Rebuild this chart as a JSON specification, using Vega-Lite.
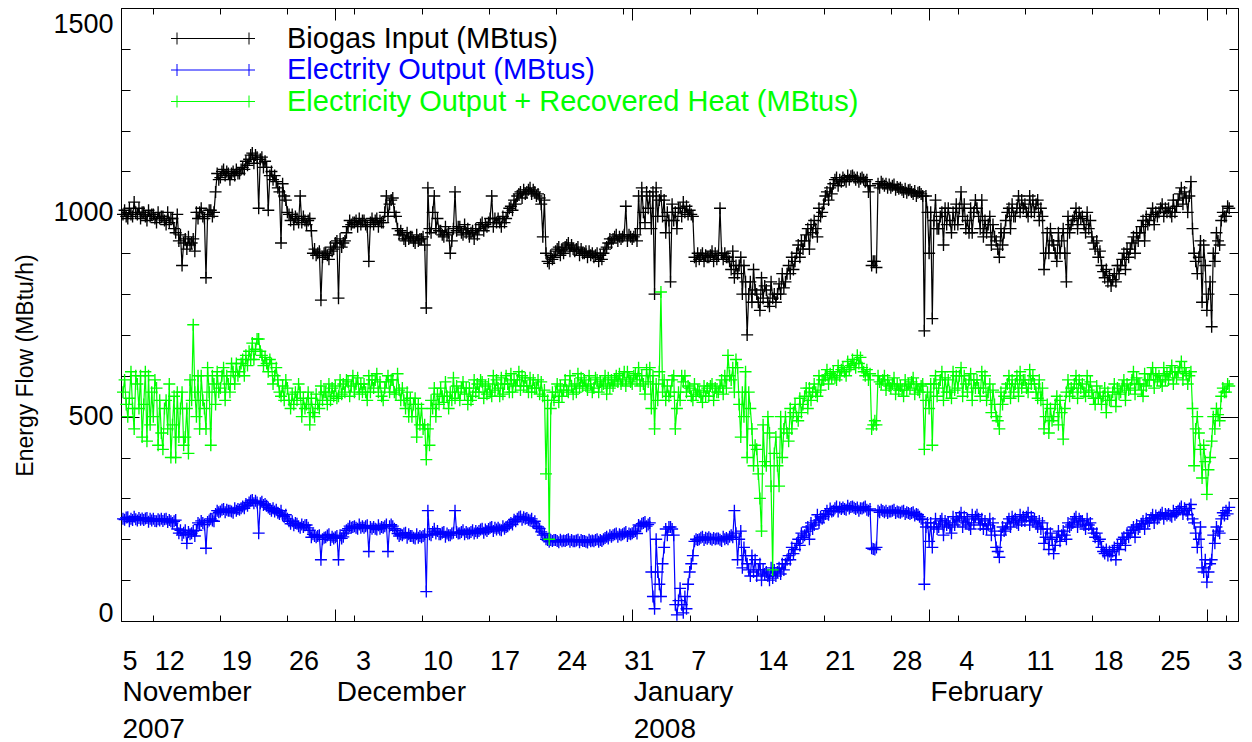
{
"$schema": "https://vega.github.io/schema/vega-lite/v6.json",
"width": 1117,
"height": 613,
"autosize": {"type": "none"},
"padding": {"left": 121, "top": 8, "right": 14, "bottom": 121},
"config": {
  "font": "Liberation Sans",
  "view": {"stroke": "#000000", "strokeWidth": 1},
  "axis": {"domain": false, "grid": false, "labelColor": "#000000", "tickColor": "#000000", "tickWidth": 1, "labelFont": "Liberation Sans", "titleFont": "Liberation Sans", "titleColor": "#000000"},
  "legend": {"labelFont": "Liberation Sans"}
},
"datasets": {"flow": [
{"t":"2007-11-08T20:00","b":995,"e":250,"h":560},
{"t":"2007-11-09T00:00","b":1005,"e":248,"h":590},{"t":"2007-11-09T04:00","b":990,"e":253,"h":530},{"t":"2007-11-09T08:00","b":985,"e":254,"h":500},{"t":"2007-11-09T12:00","b":1010,"e":244,"h":545},{"t":"2007-11-09T16:00","b":995,"e":250,"h":610},{"t":"2007-11-09T20:00","b":990,"e":247,"h":520},
{"t":"2007-11-10T00:00","b":1025,"e":255,"h":470},{"t":"2007-11-10T04:00","b":1000,"e":249,"h":600},{"t":"2007-11-10T08:00","b":995,"e":246,"h":580},{"t":"2007-11-10T12:00","b":1010,"e":252,"h":520},{"t":"2007-11-10T16:00","b":985,"e":248,"h":600},{"t":"2007-11-10T20:00","b":1000,"e":251,"h":450},
{"t":"2007-11-11T00:00","b":1000,"e":247,"h":530},{"t":"2007-11-11T04:00","b":990,"e":251,"h":610},{"t":"2007-11-11T08:00","b":980,"e":252,"h":440},{"t":"2007-11-11T12:00","b":1005,"e":243,"h":600},{"t":"2007-11-11T16:00","b":990,"e":250,"h":480},{"t":"2007-11-11T20:00","b":995,"e":246,"h":560},
{"t":"2007-11-12T00:00","b":995,"e":250,"h":500},{"t":"2007-11-12T04:00","b":985,"e":245,"h":590},{"t":"2007-11-12T08:00","b":975,"e":244,"h":570},{"t":"2007-11-12T12:00","b":1000,"e":249,"h":430},{"t":"2007-11-12T16:00","b":985,"e":246,"h":540},{"t":"2007-11-12T20:00","b":990,"e":250,"h":460},
{"t":"2007-11-13T00:00","b":990,"e":245,"h":420},{"t":"2007-11-13T04:00","b":980,"e":249,"h":520},{"t":"2007-11-13T08:00","b":970,"e":250,"h":540},{"t":"2007-11-13T12:00","b":1000,"e":242,"h":470},{"t":"2007-11-13T16:00","b":975,"e":247,"h":580},{"t":"2007-11-13T20:00","b":985,"e":244,"h":400},
{"t":"2007-11-14T00:00","b":985,"e":240,"h":480},{"t":"2007-11-14T04:00","b":960,"e":244,"h":550},{"t":"2007-11-14T08:00","b":950,"e":247,"h":400},{"t":"2007-11-14T12:00","b":995,"e":225,"h":560},{"t":"2007-11-14T16:00","b":930,"e":215,"h":450},{"t":"2007-11-14T20:00","b":945,"e":222,"h":520},
{"t":"2007-11-15T00:00","b":870,"e":210,"h":560},{"t":"2007-11-15T04:00","b":925,"e":216,"h":430},{"t":"2007-11-15T08:00","b":935,"e":222,"h":450},{"t":"2007-11-15T12:00","b":910,"e":190,"h":520},{"t":"2007-11-15T16:00","b":940,"e":218,"h":410},{"t":"2007-11-15T20:00","b":920,"e":212,"h":590},
{"t":"2007-11-16T00:00","b":925,"e":215,"h":540},{"t":"2007-11-16T04:00","b":935,"e":220,"h":725},{"t":"2007-11-16T08:00","b":905,"e":208,"h":560},{"t":"2007-11-16T12:00","b":1000,"e":222,"h":500},{"t":"2007-11-16T16:00","b":985,"e":240,"h":600},{"t":"2007-11-16T20:00","b":1000,"e":236,"h":470},
{"t":"2007-11-17T00:00","b":1010,"e":245,"h":600},{"t":"2007-11-17T04:00","b":990,"e":240,"h":540},{"t":"2007-11-17T08:00","b":985,"e":236,"h":520},{"t":"2007-11-17T12:00","b":840,"e":178,"h":470},{"t":"2007-11-17T16:00","b":995,"e":242,"h":620},{"t":"2007-11-17T20:00","b":1005,"e":246,"h":560},
{"t":"2007-11-18T00:00","b":1005,"e":250,"h":430},{"t":"2007-11-18T04:00","b":990,"e":246,"h":600},{"t":"2007-11-18T08:00","b":1000,"e":244,"h":580},{"t":"2007-11-18T12:00","b":1050,"e":262,"h":530},{"t":"2007-11-18T16:00","b":1095,"e":270,"h":610},{"t":"2007-11-18T20:00","b":1080,"e":266,"h":560},
{"t":"2007-11-19T00:00","b":1085,"e":268,"h":570},{"t":"2007-11-19T04:00","b":1100,"e":272,"h":600},{"t":"2007-11-19T08:00","b":1105,"e":274,"h":620},{"t":"2007-11-19T12:00","b":1090,"e":266,"h":540},{"t":"2007-11-19T16:00","b":1100,"e":272,"h":600},{"t":"2007-11-19T20:00","b":1095,"e":270,"h":580},
{"t":"2007-11-20T00:00","b":1080,"e":270,"h":560},{"t":"2007-11-20T04:00","b":1095,"e":268,"h":630},{"t":"2007-11-20T08:00","b":1100,"e":265,"h":610},{"t":"2007-11-20T12:00","b":1090,"e":276,"h":580},{"t":"2007-11-20T16:00","b":1105,"e":270,"h":630},{"t":"2007-11-20T20:00","b":1095,"e":274,"h":600},
{"t":"2007-11-21T00:00","b":1095,"e":272,"h":610},{"t":"2007-11-21T04:00","b":1105,"e":276,"h":630},{"t":"2007-11-21T08:00","b":1110,"e":280,"h":640},{"t":"2007-11-21T12:00","b":1105,"e":276,"h":600},{"t":"2007-11-21T16:00","b":1125,"e":286,"h":650},{"t":"2007-11-21T20:00","b":1115,"e":282,"h":625},
{"t":"2007-11-22T00:00","b":1130,"e":290,"h":660},{"t":"2007-11-22T04:00","b":1140,"e":294,"h":640},{"t":"2007-11-22T08:00","b":1145,"e":296,"h":680},{"t":"2007-11-22T12:00","b":1120,"e":288,"h":640},{"t":"2007-11-22T16:00","b":1140,"e":294,"h":665},{"t":"2007-11-22T20:00","b":1135,"e":290,"h":690},
{"t":"2007-11-23T00:00","b":1010,"e":215,"h":690},{"t":"2007-11-23T04:00","b":1130,"e":288,"h":660},{"t":"2007-11-23T08:00","b":1135,"e":292,"h":650},{"t":"2007-11-23T12:00","b":1110,"e":284,"h":625},{"t":"2007-11-23T16:00","b":1125,"e":286,"h":645},{"t":"2007-11-23T20:00","b":1110,"e":282,"h":630},
{"t":"2007-11-24T00:00","b":1005,"e":278,"h":610},{"t":"2007-11-24T04:00","b":1090,"e":274,"h":640},{"t":"2007-11-24T08:00","b":1100,"e":270,"h":630},{"t":"2007-11-24T12:00","b":1080,"e":276,"h":580},{"t":"2007-11-24T16:00","b":1090,"e":268,"h":600},{"t":"2007-11-24T20:00","b":1075,"e":272,"h":620},
{"t":"2007-11-25T00:00","b":1060,"e":265,"h":590},{"t":"2007-11-25T04:00","b":1050,"e":262,"h":560},{"t":"2007-11-25T08:00","b":925,"e":270,"h":550},{"t":"2007-11-25T12:00","b":1070,"e":258,"h":575},{"t":"2007-11-25T16:00","b":1040,"e":255,"h":540},{"t":"2007-11-25T20:00","b":1030,"e":260,"h":590},
{"t":"2007-11-26T00:00","b":1000,"e":250,"h":570},{"t":"2007-11-26T04:00","b":995,"e":244,"h":540},{"t":"2007-11-26T08:00","b":980,"e":238,"h":520},{"t":"2007-11-26T12:00","b":995,"e":244,"h":555},{"t":"2007-11-26T16:00","b":970,"e":234,"h":530},{"t":"2007-11-26T20:00","b":990,"e":240,"h":560},
{"t":"2007-11-27T00:00","b":985,"e":238,"h":540},{"t":"2007-11-27T04:00","b":975,"e":232,"h":580},{"t":"2007-11-27T08:00","b":1040,"e":228,"h":560},{"t":"2007-11-27T12:00","b":975,"e":236,"h":500},{"t":"2007-11-27T16:00","b":990,"e":230,"h":545},{"t":"2007-11-27T20:00","b":980,"e":234,"h":520},
{"t":"2007-11-28T00:00","b":970,"e":235,"h":530},{"t":"2007-11-28T04:00","b":980,"e":228,"h":560},{"t":"2007-11-28T08:00","b":985,"e":222,"h":480},{"t":"2007-11-28T12:00","b":955,"e":205,"h":545},{"t":"2007-11-28T16:00","b":900,"e":212,"h":510},{"t":"2007-11-28T20:00","b":910,"e":208,"h":500},
{"t":"2007-11-29T00:00","b":895,"e":205,"h":555},{"t":"2007-11-29T04:00","b":900,"e":208,"h":530},{"t":"2007-11-29T08:00","b":905,"e":210,"h":520},{"t":"2007-11-29T12:00","b":785,"e":150,"h":575},{"t":"2007-11-29T16:00","b":890,"e":200,"h":540},{"t":"2007-11-29T20:00","b":900,"e":204,"h":560},
{"t":"2007-11-30T00:00","b":900,"e":205,"h":560},{"t":"2007-11-30T04:00","b":895,"e":209,"h":530},{"t":"2007-11-30T08:00","b":885,"e":212,"h":580},{"t":"2007-11-30T12:00","b":915,"e":198,"h":540},{"t":"2007-11-30T16:00","b":905,"e":206,"h":570},{"t":"2007-11-30T20:00","b":910,"e":202,"h":550},
{"t":"2007-12-01T00:00","b":925,"e":205,"h":575},{"t":"2007-12-01T04:00","b":930,"e":208,"h":545},{"t":"2007-12-01T08:00","b":790,"e":150,"h":550},{"t":"2007-12-01T12:00","b":935,"e":210,"h":590},{"t":"2007-12-01T16:00","b":915,"e":202,"h":555},{"t":"2007-12-01T20:00","b":925,"e":206,"h":580},
{"t":"2007-12-02T00:00","b":930,"e":215,"h":560},{"t":"2007-12-02T04:00","b":950,"e":222,"h":590},{"t":"2007-12-02T08:00","b":965,"e":226,"h":585},{"t":"2007-12-02T12:00","b":980,"e":232,"h":550},{"t":"2007-12-02T16:00","b":970,"e":228,"h":575},{"t":"2007-12-02T20:00","b":975,"e":230,"h":600},
{"t":"2007-12-03T00:00","b":975,"e":232,"h":560},{"t":"2007-12-03T04:00","b":980,"e":228,"h":580},{"t":"2007-12-03T08:00","b":965,"e":226,"h":595},{"t":"2007-12-03T12:00","b":985,"e":236,"h":555},{"t":"2007-12-03T16:00","b":970,"e":228,"h":580},{"t":"2007-12-03T20:00","b":980,"e":232,"h":560},
{"t":"2007-12-04T00:00","b":980,"e":228,"h":580},{"t":"2007-12-04T04:00","b":970,"e":232,"h":560},{"t":"2007-12-04T08:00","b":965,"e":234,"h":540},{"t":"2007-12-04T12:00","b":880,"e":170,"h":600},{"t":"2007-12-04T16:00","b":975,"e":230,"h":560},{"t":"2007-12-04T20:00","b":985,"e":226,"h":590},
{"t":"2007-12-05T00:00","b":970,"e":230,"h":570},{"t":"2007-12-05T04:00","b":980,"e":226,"h":590},{"t":"2007-12-05T08:00","b":985,"e":224,"h":605},{"t":"2007-12-05T12:00","b":965,"e":234,"h":560},{"t":"2007-12-05T16:00","b":980,"e":226,"h":585},{"t":"2007-12-05T20:00","b":975,"e":230,"h":550},
{"t":"2007-12-06T00:00","b":975,"e":228,"h":540},{"t":"2007-12-06T04:00","b":1000,"e":232,"h":570},{"t":"2007-12-06T08:00","b":1040,"e":236,"h":585},{"t":"2007-12-06T12:00","b":990,"e":170,"h":600},{"t":"2007-12-06T16:00","b":1020,"e":232,"h":560},{"t":"2007-12-06T20:00","b":1030,"e":236,"h":590},
{"t":"2007-12-07T00:00","b":1035,"e":232,"h":590},{"t":"2007-12-07T04:00","b":1000,"e":226,"h":560},{"t":"2007-12-07T08:00","b":990,"e":222,"h":555},{"t":"2007-12-07T12:00","b":960,"e":214,"h":605},{"t":"2007-12-07T16:00","b":945,"e":208,"h":565},{"t":"2007-12-07T20:00","b":955,"e":212,"h":540},
{"t":"2007-12-08T00:00","b":945,"e":210,"h":570},{"t":"2007-12-08T04:00","b":935,"e":214,"h":540},{"t":"2007-12-08T08:00","b":930,"e":216,"h":520},{"t":"2007-12-08T12:00","b":950,"e":204,"h":560},{"t":"2007-12-08T16:00","b":935,"e":212,"h":500},{"t":"2007-12-08T20:00","b":940,"e":208,"h":545},
{"t":"2007-12-09T00:00","b":940,"e":208,"h":500},{"t":"2007-12-09T04:00","b":930,"e":204,"h":530},{"t":"2007-12-09T08:00","b":925,"e":202,"h":545},{"t":"2007-12-09T12:00","b":945,"e":212,"h":450},{"t":"2007-12-09T16:00","b":930,"e":204,"h":530},{"t":"2007-12-09T20:00","b":935,"e":208,"h":480},
{"t":"2007-12-10T00:00","b":935,"e":205,"h":520},{"t":"2007-12-10T04:00","b":940,"e":208,"h":470},{"t":"2007-12-10T08:00","b":920,"e":212,"h":480},{"t":"2007-12-10T12:00","b":766,"e":72,"h":395},{"t":"2007-12-10T16:00","b":1060,"e":270,"h":470},{"t":"2007-12-10T20:00","b":960,"e":212,"h":430},
{"t":"2007-12-11T00:00","b":950,"e":210,"h":540},{"t":"2007-12-11T04:00","b":1000,"e":218,"h":520},{"t":"2007-12-11T08:00","b":1040,"e":226,"h":570},{"t":"2007-12-11T12:00","b":960,"e":214,"h":500},{"t":"2007-12-11T16:00","b":985,"e":220,"h":555},{"t":"2007-12-11T20:00","b":955,"e":212,"h":530},
{"t":"2007-12-12T00:00","b":955,"e":212,"h":570},{"t":"2007-12-12T04:00","b":945,"e":216,"h":550},{"t":"2007-12-12T08:00","b":940,"e":218,"h":535},{"t":"2007-12-12T12:00","b":965,"e":206,"h":585},{"t":"2007-12-12T16:00","b":945,"e":214,"h":550},{"t":"2007-12-12T20:00","b":950,"e":210,"h":520},
{"t":"2007-12-13T00:00","b":900,"e":210,"h":560},{"t":"2007-12-13T04:00","b":930,"e":214,"h":540},{"t":"2007-12-13T08:00","b":960,"e":216,"h":595},{"t":"2007-12-13T12:00","b":1050,"e":270,"h":545},{"t":"2007-12-13T16:00","b":955,"e":218,"h":575},{"t":"2007-12-13T20:00","b":965,"e":214,"h":560},
{"t":"2007-12-14T00:00","b":965,"e":215,"h":540},{"t":"2007-12-14T04:00","b":950,"e":218,"h":570},{"t":"2007-12-14T08:00","b":945,"e":222,"h":585},{"t":"2007-12-14T12:00","b":970,"e":212,"h":555},{"t":"2007-12-14T16:00","b":950,"e":218,"h":570},{"t":"2007-12-14T20:00","b":960,"e":214,"h":530},
{"t":"2007-12-15T00:00","b":940,"e":215,"h":570},{"t":"2007-12-15T04:00","b":950,"e":218,"h":540},{"t":"2007-12-15T08:00","b":955,"e":222,"h":550},{"t":"2007-12-15T12:00","b":935,"e":214,"h":590},{"t":"2007-12-15T16:00","b":960,"e":220,"h":560},{"t":"2007-12-15T20:00","b":945,"e":216,"h":580},
{"t":"2007-12-16T00:00","b":960,"e":220,"h":560},{"t":"2007-12-16T04:00","b":970,"e":224,"h":590},{"t":"2007-12-16T08:00","b":975,"e":226,"h":585},{"t":"2007-12-16T12:00","b":955,"e":216,"h":545},{"t":"2007-12-16T16:00","b":970,"e":224,"h":575},{"t":"2007-12-16T20:00","b":965,"e":220,"h":555},
{"t":"2007-12-17T00:00","b":975,"e":225,"h":580},{"t":"2007-12-17T04:00","b":985,"e":228,"h":560},{"t":"2007-12-17T08:00","b":1040,"e":230,"h":550},{"t":"2007-12-17T12:00","b":965,"e":220,"h":600},{"t":"2007-12-17T16:00","b":985,"e":228,"h":565},{"t":"2007-12-17T20:00","b":975,"e":224,"h":590},
{"t":"2007-12-18T00:00","b":985,"e":228,"h":570},{"t":"2007-12-18T04:00","b":975,"e":224,"h":550},{"t":"2007-12-18T08:00","b":965,"e":222,"h":595},{"t":"2007-12-18T12:00","b":990,"e":232,"h":555},{"t":"2007-12-18T16:00","b":975,"e":226,"h":580},{"t":"2007-12-18T20:00","b":985,"e":230,"h":600},
{"t":"2007-12-19T00:00","b":1000,"e":232,"h":580},{"t":"2007-12-19T04:00","b":1010,"e":236,"h":560},{"t":"2007-12-19T08:00","b":1015,"e":240,"h":605},{"t":"2007-12-19T12:00","b":1005,"e":236,"h":560},{"t":"2007-12-19T16:00","b":1030,"e":248,"h":590},{"t":"2007-12-19T20:00","b":1020,"e":244,"h":575},
{"t":"2007-12-20T00:00","b":1040,"e":250,"h":590},{"t":"2007-12-20T04:00","b":1045,"e":254,"h":610},{"t":"2007-12-20T08:00","b":1050,"e":256,"h":565},{"t":"2007-12-20T12:00","b":1035,"e":248,"h":600},{"t":"2007-12-20T16:00","b":1055,"e":254,"h":575},{"t":"2007-12-20T20:00","b":1045,"e":250,"h":595},
{"t":"2007-12-21T00:00","b":1050,"e":252,"h":575},{"t":"2007-12-21T04:00","b":1055,"e":248,"h":560},{"t":"2007-12-21T08:00","b":1060,"e":246,"h":595},{"t":"2007-12-21T12:00","b":1045,"e":250,"h":560},{"t":"2007-12-21T16:00","b":1055,"e":240,"h":590},{"t":"2007-12-21T20:00","b":1050,"e":244,"h":570},
{"t":"2007-12-22T00:00","b":1040,"e":232,"h":570},{"t":"2007-12-22T04:00","b":1045,"e":230,"h":590},{"t":"2007-12-22T08:00","b":1035,"e":226,"h":555},{"t":"2007-12-22T12:00","b":1020,"e":218,"h":585},{"t":"2007-12-22T16:00","b":940,"e":210,"h":550},{"t":"2007-12-22T20:00","b":1030,"e":214,"h":565},
{"t":"2007-12-23T00:00","b":900,"e":200,"h":360},{"t":"2007-12-23T04:00","b":880,"e":198,"h":540},{"t":"2007-12-23T08:00","b":875,"e":194,"h":200},{"t":"2007-12-23T12:00","b":895,"e":198,"h":520},{"t":"2007-12-23T16:00","b":885,"e":196,"h":560},{"t":"2007-12-23T20:00","b":890,"e":198,"h":540},
{"t":"2007-12-24T00:00","b":905,"e":198,"h":560},{"t":"2007-12-24T04:00","b":910,"e":196,"h":580},{"t":"2007-12-24T08:00","b":915,"e":193,"h":535},{"t":"2007-12-24T12:00","b":895,"e":199,"h":575},{"t":"2007-12-24T16:00","b":910,"e":195,"h":550},{"t":"2007-12-24T20:00","b":900,"e":197,"h":565},
{"t":"2007-12-25T00:00","b":915,"e":196,"h":590},{"t":"2007-12-25T04:00","b":920,"e":198,"h":565},{"t":"2007-12-25T08:00","b":925,"e":200,"h":560},{"t":"2007-12-25T12:00","b":905,"e":194,"h":600},{"t":"2007-12-25T16:00","b":920,"e":198,"h":575},{"t":"2007-12-25T20:00","b":910,"e":195,"h":555},
{"t":"2007-12-26T00:00","b":905,"e":195,"h":580},{"t":"2007-12-26T04:00","b":910,"e":197,"h":560},{"t":"2007-12-26T08:00","b":915,"e":199,"h":605},{"t":"2007-12-26T12:00","b":895,"e":193,"h":570},{"t":"2007-12-26T16:00","b":910,"e":198,"h":595},{"t":"2007-12-26T20:00","b":900,"e":196,"h":575},
{"t":"2007-12-27T00:00","b":900,"e":196,"h":590},{"t":"2007-12-27T04:00","b":905,"e":194,"h":575},{"t":"2007-12-27T08:00","b":890,"e":192,"h":565},{"t":"2007-12-27T12:00","b":905,"e":199,"h":600},{"t":"2007-12-27T16:00","b":895,"e":195,"h":580},{"t":"2007-12-27T20:00","b":900,"e":197,"h":560},
{"t":"2007-12-28T00:00","b":890,"e":195,"h":570},{"t":"2007-12-28T04:00","b":895,"e":198,"h":595},{"t":"2007-12-28T08:00","b":900,"e":200,"h":590},{"t":"2007-12-28T12:00","b":880,"e":194,"h":560},{"t":"2007-12-28T16:00","b":895,"e":198,"h":585},{"t":"2007-12-28T20:00","b":885,"e":196,"h":575},
{"t":"2007-12-29T00:00","b":900,"e":200,"h":580},{"t":"2007-12-29T04:00","b":910,"e":203,"h":600},{"t":"2007-12-29T08:00","b":915,"e":206,"h":555},{"t":"2007-12-29T12:00","b":925,"e":202,"h":595},{"t":"2007-12-29T16:00","b":935,"e":210,"h":570},{"t":"2007-12-29T20:00","b":925,"e":206,"h":590},
{"t":"2007-12-30T00:00","b":935,"e":210,"h":575},{"t":"2007-12-30T04:00","b":940,"e":212,"h":590},{"t":"2007-12-30T08:00","b":945,"e":214,"h":600},{"t":"2007-12-30T12:00","b":930,"e":206,"h":585},{"t":"2007-12-30T16:00","b":940,"e":212,"h":605},{"t":"2007-12-30T20:00","b":935,"e":210,"h":580},
{"t":"2007-12-31T00:00","b":940,"e":212,"h":590},{"t":"2007-12-31T04:00","b":945,"e":215,"h":610},{"t":"2007-12-31T08:00","b":1015,"e":218,"h":575},{"t":"2007-12-31T12:00","b":930,"e":208,"h":610},{"t":"2007-12-31T16:00","b":945,"e":214,"h":595},{"t":"2007-12-31T20:00","b":940,"e":212,"h":585},
{"t":"2008-01-01T00:00","b":935,"e":215,"h":580},{"t":"2008-01-01T04:00","b":940,"e":218,"h":600},{"t":"2008-01-01T08:00","b":945,"e":220,"h":605},{"t":"2008-01-01T12:00","b":930,"e":214,"h":590},{"t":"2008-01-01T16:00","b":1040,"e":235,"h":620},{"t":"2008-01-01T20:00","b":960,"e":232,"h":575},
{"t":"2008-01-02T00:00","b":1060,"e":238,"h":600},{"t":"2008-01-02T04:00","b":1000,"e":240,"h":580},{"t":"2008-01-02T08:00","b":975,"e":242,"h":555},{"t":"2008-01-02T12:00","b":1050,"e":232,"h":615},{"t":"2008-01-02T16:00","b":1010,"e":236,"h":585},{"t":"2008-01-02T20:00","b":1040,"e":240,"h":620},
{"t":"2008-01-03T00:00","b":960,"e":120,"h":520},{"t":"2008-01-03T04:00","b":1050,"e":60,"h":600},{"t":"2008-01-03T08:00","b":800,"e":30,"h":470},{"t":"2008-01-03T12:00","b":1060,"e":200,"h":580},{"t":"2008-01-03T16:00","b":990,"e":120,"h":540},{"t":"2008-01-03T20:00","b":1030,"e":90,"h":610},
{"t":"2008-01-04T00:00","b":1040,"e":60,"h":805},{"t":"2008-01-04T04:00","b":990,"e":140,"h":560},{"t":"2008-01-04T08:00","b":1030,"e":180,"h":590},{"t":"2008-01-04T12:00","b":950,"e":225,"h":540},{"t":"2008-01-04T16:00","b":1000,"e":210,"h":575},{"t":"2008-01-04T20:00","b":980,"e":230,"h":550},
{"t":"2008-01-05T00:00","b":830,"e":230,"h":560},{"t":"2008-01-05T04:00","b":1020,"e":225,"h":590},{"t":"2008-01-05T08:00","b":980,"e":210,"h":600},{"t":"2008-01-05T12:00","b":1000,"e":40,"h":470},{"t":"2008-01-05T16:00","b":960,"e":15,"h":520},{"t":"2008-01-05T20:00","b":1010,"e":50,"h":560},
{"t":"2008-01-06T00:00","b":1010,"e":80,"h":540},{"t":"2008-01-06T04:00","b":990,"e":40,"h":600},{"t":"2008-01-06T08:00","b":1025,"e":20,"h":585},{"t":"2008-01-06T12:00","b":1000,"e":60,"h":600},{"t":"2008-01-06T16:00","b":1015,"e":30,"h":560},{"t":"2008-01-06T20:00","b":995,"e":90,"h":575},
{"t":"2008-01-07T00:00","b":1005,"e":120,"h":570},{"t":"2008-01-07T04:00","b":995,"e":140,"h":550},{"t":"2008-01-07T08:00","b":990,"e":160,"h":540},{"t":"2008-01-07T12:00","b":890,"e":195,"h":580},{"t":"2008-01-07T16:00","b":880,"e":200,"h":555},{"t":"2008-01-07T20:00","b":900,"e":198,"h":565},
{"t":"2008-01-08T00:00","b":885,"e":200,"h":560},{"t":"2008-01-08T04:00","b":895,"e":204,"h":550},{"t":"2008-01-08T08:00","b":900,"e":206,"h":535},{"t":"2008-01-08T12:00","b":880,"e":198,"h":575},{"t":"2008-01-08T16:00","b":895,"e":204,"h":550},{"t":"2008-01-08T20:00","b":890,"e":201,"h":570},
{"t":"2008-01-09T00:00","b":890,"e":205,"h":550},{"t":"2008-01-09T04:00","b":895,"e":201,"h":575},{"t":"2008-01-09T08:00","b":905,"e":199,"h":580},{"t":"2008-01-09T12:00","b":880,"e":203,"h":540},{"t":"2008-01-09T16:00","b":900,"e":200,"h":570},{"t":"2008-01-09T20:00","b":885,"e":202,"h":560},
{"t":"2008-01-10T00:00","b":895,"e":202,"h":560},{"t":"2008-01-10T04:00","b":1010,"e":199,"h":575},{"t":"2008-01-10T08:00","b":900,"e":196,"h":590},{"t":"2008-01-10T12:00","b":885,"e":206,"h":555},{"t":"2008-01-10T16:00","b":900,"e":200,"h":600},{"t":"2008-01-10T20:00","b":890,"e":203,"h":570},
{"t":"2008-01-11T00:00","b":890,"e":200,"h":650},{"t":"2008-01-11T04:00","b":880,"e":206,"h":600},{"t":"2008-01-11T08:00","b":860,"e":210,"h":590},{"t":"2008-01-11T12:00","b":905,"e":205,"h":620},{"t":"2008-01-11T16:00","b":840,"e":270,"h":560},{"t":"2008-01-11T20:00","b":870,"e":215,"h":640},
{"t":"2008-01-12T00:00","b":850,"e":150,"h":620},{"t":"2008-01-12T04:00","b":870,"e":200,"h":530},{"t":"2008-01-12T08:00","b":890,"e":220,"h":450},{"t":"2008-01-12T12:00","b":800,"e":130,"h":560},{"t":"2008-01-12T16:00","b":870,"e":180,"h":500},{"t":"2008-01-12T20:00","b":830,"e":160,"h":610},
{"t":"2008-01-13T00:00","b":700,"e":140,"h":400},{"t":"2008-01-13T04:00","b":800,"e":125,"h":560},{"t":"2008-01-13T08:00","b":830,"e":110,"h":520},{"t":"2008-01-13T12:00","b":780,"e":160,"h":470},{"t":"2008-01-13T16:00","b":860,"e":120,"h":380},{"t":"2008-01-13T20:00","b":810,"e":150,"h":430},
{"t":"2008-01-14T00:00","b":800,"e":110,"h":420},{"t":"2008-01-14T04:00","b":780,"e":125,"h":360},{"t":"2008-01-14T08:00","b":760,"e":140,"h":300},{"t":"2008-01-14T12:00","b":840,"e":100,"h":220},{"t":"2008-01-14T16:00","b":790,"e":125,"h":480},{"t":"2008-01-14T20:00","b":820,"e":115,"h":390},
{"t":"2008-01-15T00:00","b":810,"e":120,"h":380},{"t":"2008-01-15T04:00","b":780,"e":110,"h":500},{"t":"2008-01-15T08:00","b":770,"e":100,"h":460},{"t":"2008-01-15T12:00","b":830,"e":130,"h":330},{"t":"2008-01-15T16:00","b":790,"e":105,"h":125},{"t":"2008-01-15T20:00","b":800,"e":125,"h":410},
{"t":"2008-01-16T00:00","b":780,"e":110,"h":450},{"t":"2008-01-16T04:00","b":800,"e":120,"h":380},{"t":"2008-01-16T08:00","b":825,"e":130,"h":330},{"t":"2008-01-16T12:00","b":800,"e":115,"h":500},{"t":"2008-01-16T16:00","b":850,"e":140,"h":400},{"t":"2008-01-16T20:00","b":815,"e":125,"h":470},
{"t":"2008-01-17T00:00","b":830,"e":140,"h":500},{"t":"2008-01-17T04:00","b":850,"e":150,"h":460},{"t":"2008-01-17T08:00","b":870,"e":160,"h":440},{"t":"2008-01-17T12:00","b":850,"e":150,"h":520},{"t":"2008-01-17T16:00","b":890,"e":180,"h":470},{"t":"2008-01-17T20:00","b":860,"e":165,"h":510},
{"t":"2008-01-18T00:00","b":880,"e":175,"h":530},{"t":"2008-01-18T04:00","b":900,"e":190,"h":500},{"t":"2008-01-18T08:00","b":920,"e":200,"h":490},{"t":"2008-01-18T12:00","b":890,"e":185,"h":545},{"t":"2008-01-18T16:00","b":930,"e":215,"h":510},{"t":"2008-01-18T20:00","b":910,"e":205,"h":530},
{"t":"2008-01-19T00:00","b":930,"e":210,"h":550},{"t":"2008-01-19T04:00","b":945,"e":220,"h":570},{"t":"2008-01-19T08:00","b":960,"e":230,"h":520},{"t":"2008-01-19T12:00","b":910,"e":200,"h":570},{"t":"2008-01-19T16:00","b":970,"e":240,"h":540},{"t":"2008-01-19T20:00","b":950,"e":225,"h":560},
{"t":"2008-01-20T00:00","b":980,"e":235,"h":580},{"t":"2008-01-20T04:00","b":960,"e":245,"h":560},{"t":"2008-01-20T08:00","b":940,"e":260,"h":550},{"t":"2008-01-20T12:00","b":1010,"e":240,"h":600},{"t":"2008-01-20T16:00","b":990,"e":255,"h":565},{"t":"2008-01-20T20:00","b":1000,"e":250,"h":590},
{"t":"2008-01-21T00:00","b":1020,"e":255,"h":590},{"t":"2008-01-21T04:00","b":1040,"e":262,"h":600},{"t":"2008-01-21T08:00","b":1050,"e":270,"h":615},{"t":"2008-01-21T12:00","b":1030,"e":260,"h":580},{"t":"2008-01-21T16:00","b":1060,"e":275,"h":605},{"t":"2008-01-21T20:00","b":1045,"e":268,"h":595},
{"t":"2008-01-22T00:00","b":1070,"e":270,"h":610},{"t":"2008-01-22T04:00","b":1080,"e":276,"h":595},{"t":"2008-01-22T08:00","b":1085,"e":280,"h":590},{"t":"2008-01-22T12:00","b":1065,"e":268,"h":625},{"t":"2008-01-22T16:00","b":1080,"e":278,"h":600},{"t":"2008-01-22T20:00","b":1075,"e":274,"h":615},
{"t":"2008-01-23T00:00","b":1085,"e":278,"h":620},{"t":"2008-01-23T04:00","b":1080,"e":274,"h":610},{"t":"2008-01-23T08:00","b":1075,"e":272,"h":600},{"t":"2008-01-23T12:00","b":1090,"e":282,"h":635},{"t":"2008-01-23T16:00","b":1080,"e":275,"h":615},{"t":"2008-01-23T20:00","b":1088,"e":279,"h":625},
{"t":"2008-01-24T00:00","b":1090,"e":280,"h":640},{"t":"2008-01-24T04:00","b":1085,"e":277,"h":630},{"t":"2008-01-24T08:00","b":1080,"e":274,"h":620},{"t":"2008-01-24T12:00","b":1085,"e":278,"h":650},{"t":"2008-01-24T16:00","b":1075,"e":270,"h":630},{"t":"2008-01-24T20:00","b":1082,"e":276,"h":645},
{"t":"2008-01-25T00:00","b":1085,"e":275,"h":620},{"t":"2008-01-25T04:00","b":1080,"e":278,"h":610},{"t":"2008-01-25T08:00","b":1075,"e":280,"h":600},{"t":"2008-01-25T12:00","b":1080,"e":272,"h":615},{"t":"2008-01-25T16:00","b":1050,"e":270,"h":590},{"t":"2008-01-25T20:00","b":1065,"e":274,"h":605},
{"t":"2008-01-26T00:00","b":870,"e":178,"h":470},{"t":"2008-01-26T04:00","b":880,"e":176,"h":480},{"t":"2008-01-26T08:00","b":880,"e":175,"h":490},{"t":"2008-01-26T12:00","b":865,"e":180,"h":480},{"t":"2008-01-26T16:00","b":1070,"e":270,"h":600},{"t":"2008-01-26T20:00","b":1060,"e":266,"h":585},
{"t":"2008-01-27T00:00","b":1075,"e":272,"h":580},{"t":"2008-01-27T04:00","b":1070,"e":269,"h":590},{"t":"2008-01-27T08:00","b":1065,"e":266,"h":600},{"t":"2008-01-27T12:00","b":1070,"e":270,"h":565},{"t":"2008-01-27T16:00","b":1060,"e":264,"h":590},{"t":"2008-01-27T20:00","b":1068,"e":268,"h":575},
{"t":"2008-01-28T00:00","b":1060,"e":268,"h":570},{"t":"2008-01-28T04:00","b":1065,"e":270,"h":580},{"t":"2008-01-28T08:00","b":1068,"e":272,"h":595},{"t":"2008-01-28T12:00","b":1055,"e":264,"h":555},{"t":"2008-01-28T16:00","b":1062,"e":268,"h":580},{"t":"2008-01-28T20:00","b":1058,"e":266,"h":565},
{"t":"2008-01-29T00:00","b":1060,"e":265,"h":575},{"t":"2008-01-29T04:00","b":1055,"e":268,"h":565},{"t":"2008-01-29T08:00","b":1050,"e":270,"h":550},{"t":"2008-01-29T12:00","b":1058,"e":262,"h":590},{"t":"2008-01-29T16:00","b":1048,"e":266,"h":565},{"t":"2008-01-29T20:00","b":1054,"e":264,"h":580},
{"t":"2008-01-30T00:00","b":1055,"e":262,"h":570},{"t":"2008-01-30T04:00","b":1050,"e":264,"h":585},{"t":"2008-01-30T08:00","b":1045,"e":266,"h":595},{"t":"2008-01-30T12:00","b":1052,"e":258,"h":555},{"t":"2008-01-30T16:00","b":1040,"e":262,"h":580},{"t":"2008-01-30T20:00","b":1048,"e":260,"h":565},
{"t":"2008-01-31T00:00","b":1050,"e":255,"h":560},{"t":"2008-01-31T04:00","b":1045,"e":250,"h":575},{"t":"2008-01-31T08:00","b":1040,"e":248,"h":580},{"t":"2008-01-31T12:00","b":710,"e":90,"h":420},{"t":"2008-01-31T16:00","b":1040,"e":230,"h":540},{"t":"2008-01-31T20:00","b":1000,"e":240,"h":560},
{"t":"2008-02-01T00:00","b":900,"e":195,"h":520},{"t":"2008-02-01T04:00","b":1000,"e":240,"h":580},{"t":"2008-02-01T08:00","b":740,"e":180,"h":430},{"t":"2008-02-01T12:00","b":980,"e":230,"h":580},{"t":"2008-02-01T16:00","b":1030,"e":250,"h":600},{"t":"2008-02-01T20:00","b":960,"e":225,"h":550},
{"t":"2008-02-02T00:00","b":960,"e":230,"h":570},{"t":"2008-02-02T04:00","b":990,"e":245,"h":590},{"t":"2008-02-02T08:00","b":1000,"e":250,"h":610},{"t":"2008-02-02T12:00","b":920,"e":210,"h":540},{"t":"2008-02-02T16:00","b":1010,"e":245,"h":595},{"t":"2008-02-02T20:00","b":970,"e":235,"h":560},
{"t":"2008-02-03T00:00","b":1010,"e":240,"h":590},{"t":"2008-02-03T04:00","b":980,"e":230,"h":560},{"t":"2008-02-03T08:00","b":950,"e":215,"h":545},{"t":"2008-02-03T12:00","b":1000,"e":255,"h":610},{"t":"2008-02-03T16:00","b":970,"e":235,"h":565},{"t":"2008-02-03T20:00","b":1020,"e":250,"h":600},
{"t":"2008-02-04T00:00","b":970,"e":245,"h":570},{"t":"2008-02-04T04:00","b":1010,"e":255,"h":600},{"t":"2008-02-04T08:00","b":1050,"e":265,"h":620},{"t":"2008-02-04T12:00","b":990,"e":230,"h":550},{"t":"2008-02-04T16:00","b":1020,"e":255,"h":600},{"t":"2008-02-04T20:00","b":960,"e":240,"h":580},
{"t":"2008-02-05T00:00","b":980,"e":250,"h":560},{"t":"2008-02-05T04:00","b":950,"e":235,"h":590},{"t":"2008-02-05T08:00","b":1010,"e":225,"h":605},{"t":"2008-02-05T12:00","b":950,"e":260,"h":540},{"t":"2008-02-05T16:00","b":1000,"e":240,"h":590},{"t":"2008-02-05T20:00","b":1030,"e":255,"h":570},
{"t":"2008-02-06T00:00","b":1010,"e":260,"h":590},{"t":"2008-02-06T04:00","b":990,"e":250,"h":570},{"t":"2008-02-06T08:00","b":960,"e":235,"h":550},{"t":"2008-02-06T12:00","b":1030,"e":250,"h":610},{"t":"2008-02-06T16:00","b":940,"e":225,"h":570},{"t":"2008-02-06T20:00","b":980,"e":245,"h":600},
{"t":"2008-02-07T00:00","b":950,"e":225,"h":540},{"t":"2008-02-07T04:00","b":970,"e":235,"h":560},{"t":"2008-02-07T08:00","b":990,"e":250,"h":580},{"t":"2008-02-07T12:00","b":920,"e":210,"h":510},{"t":"2008-02-07T16:00","b":970,"e":240,"h":565},{"t":"2008-02-07T20:00","b":940,"e":220,"h":530},
{"t":"2008-02-08T00:00","b":930,"e":180,"h":500},{"t":"2008-02-08T04:00","b":910,"e":170,"h":490},{"t":"2008-02-08T08:00","b":890,"e":156,"h":470},{"t":"2008-02-08T12:00","b":960,"e":210,"h":560},{"t":"2008-02-08T16:00","b":920,"e":230,"h":530},{"t":"2008-02-08T20:00","b":950,"e":220,"h":550},
{"t":"2008-02-09T00:00","b":980,"e":225,"h":570},{"t":"2008-02-09T04:00","b":1000,"e":240,"h":580},{"t":"2008-02-09T08:00","b":1010,"e":250,"h":600},{"t":"2008-02-09T12:00","b":960,"e":230,"h":545},{"t":"2008-02-09T16:00","b":1020,"e":255,"h":590},{"t":"2008-02-09T20:00","b":990,"e":245,"h":560},
{"t":"2008-02-10T00:00","b":990,"e":250,"h":580},{"t":"2008-02-10T04:00","b":1010,"e":240,"h":600},{"t":"2008-02-10T08:00","b":1040,"e":235,"h":550},{"t":"2008-02-10T12:00","b":1000,"e":260,"h":610},{"t":"2008-02-10T16:00","b":1030,"e":245,"h":570},{"t":"2008-02-10T20:00","b":1010,"e":255,"h":590},
{"t":"2008-02-11T00:00","b":1020,"e":245,"h":590},{"t":"2008-02-11T04:00","b":1000,"e":255,"h":570},{"t":"2008-02-11T08:00","b":990,"e":265,"h":560},{"t":"2008-02-11T12:00","b":1040,"e":235,"h":615},{"t":"2008-02-11T16:00","b":1000,"e":255,"h":580},{"t":"2008-02-11T20:00","b":1030,"e":245,"h":600},
{"t":"2008-02-12T00:00","b":1000,"e":250,"h":580},{"t":"2008-02-12T04:00","b":1020,"e":240,"h":560},{"t":"2008-02-12T08:00","b":1030,"e":230,"h":545},{"t":"2008-02-12T12:00","b":980,"e":245,"h":590},{"t":"2008-02-12T16:00","b":1010,"e":225,"h":540},{"t":"2008-02-12T20:00","b":990,"e":240,"h":570},
{"t":"2008-02-13T00:00","b":860,"e":190,"h":470},{"t":"2008-02-13T04:00","b":900,"e":205,"h":500},{"t":"2008-02-13T08:00","b":950,"e":225,"h":530},{"t":"2008-02-13T12:00","b":900,"e":175,"h":460},{"t":"2008-02-13T16:00","b":960,"e":215,"h":520},{"t":"2008-02-13T20:00","b":930,"e":200,"h":490},
{"t":"2008-02-14T00:00","b":920,"e":165,"h":500},{"t":"2008-02-14T04:00","b":900,"e":185,"h":530},{"t":"2008-02-14T08:00","b":880,"e":205,"h":550},{"t":"2008-02-14T12:00","b":950,"e":220,"h":480},{"t":"2008-02-14T16:00","b":900,"e":195,"h":540},{"t":"2008-02-14T20:00","b":930,"e":210,"h":510},
{"t":"2008-02-15T00:00","b":960,"e":220,"h":445},{"t":"2008-02-15T04:00","b":900,"e":210,"h":520},{"t":"2008-02-15T08:00","b":830,"e":200,"h":560},{"t":"2008-02-15T12:00","b":990,"e":240,"h":590},{"t":"2008-02-15T16:00","b":950,"e":230,"h":550},{"t":"2008-02-15T20:00","b":970,"e":235,"h":570},
{"t":"2008-02-16T00:00","b":980,"e":240,"h":560},{"t":"2008-02-16T04:00","b":990,"e":250,"h":580},{"t":"2008-02-16T08:00","b":1010,"e":255,"h":600},{"t":"2008-02-16T12:00","b":960,"e":230,"h":545},{"t":"2008-02-16T16:00","b":1000,"e":250,"h":590},{"t":"2008-02-16T20:00","b":985,"e":245,"h":570},
{"t":"2008-02-17T00:00","b":990,"e":245,"h":580},{"t":"2008-02-17T04:00","b":970,"e":235,"h":560},{"t":"2008-02-17T08:00","b":950,"e":225,"h":550},{"t":"2008-02-17T12:00","b":1000,"e":250,"h":600},{"t":"2008-02-17T16:00","b":960,"e":235,"h":565},{"t":"2008-02-17T20:00","b":980,"e":240,"h":585},
{"t":"2008-02-18T00:00","b":940,"e":225,"h":560},{"t":"2008-02-18T04:00","b":925,"e":215,"h":545},{"t":"2008-02-18T08:00","b":910,"e":205,"h":530},{"t":"2008-02-18T12:00","b":930,"e":215,"h":575},{"t":"2008-02-18T16:00","b":890,"e":195,"h":545},{"t":"2008-02-18T20:00","b":905,"e":200,"h":560},
{"t":"2008-02-19T00:00","b":870,"e":180,"h":530},{"t":"2008-02-19T04:00","b":855,"e":170,"h":550},{"t":"2008-02-19T08:00","b":840,"e":165,"h":570},{"t":"2008-02-19T12:00","b":860,"e":175,"h":510},{"t":"2008-02-19T16:00","b":830,"e":160,"h":560},{"t":"2008-02-19T20:00","b":845,"e":170,"h":540},
{"t":"2008-02-20T00:00","b":820,"e":160,"h":540},{"t":"2008-02-20T04:00","b":835,"e":170,"h":560},{"t":"2008-02-20T08:00","b":850,"e":180,"h":580},{"t":"2008-02-20T12:00","b":830,"e":150,"h":525},{"t":"2008-02-20T16:00","b":870,"e":185,"h":570},{"t":"2008-02-20T20:00","b":850,"e":175,"h":555},
{"t":"2008-02-21T00:00","b":870,"e":190,"h":560},{"t":"2008-02-21T04:00","b":885,"e":200,"h":575},{"t":"2008-02-21T08:00","b":900,"e":205,"h":590},{"t":"2008-02-21T12:00","b":860,"e":185,"h":540},{"t":"2008-02-21T16:00","b":910,"e":215,"h":580},{"t":"2008-02-21T20:00","b":890,"e":205,"h":565},
{"t":"2008-02-22T00:00","b":910,"e":215,"h":570},{"t":"2008-02-22T04:00","b":925,"e":222,"h":590},{"t":"2008-02-22T08:00","b":940,"e":230,"h":610},{"t":"2008-02-22T12:00","b":900,"e":205,"h":555},{"t":"2008-02-22T16:00","b":950,"e":235,"h":595},{"t":"2008-02-22T20:00","b":930,"e":225,"h":580},
{"t":"2008-02-23T00:00","b":950,"e":230,"h":580},{"t":"2008-02-23T04:00","b":965,"e":238,"h":565},{"t":"2008-02-23T08:00","b":980,"e":245,"h":550},{"t":"2008-02-23T12:00","b":930,"e":225,"h":605},{"t":"2008-02-23T16:00","b":990,"e":250,"h":575},{"t":"2008-02-23T20:00","b":970,"e":240,"h":590},
{"t":"2008-02-24T00:00","b":980,"e":245,"h":590},{"t":"2008-02-24T04:00","b":995,"e":252,"h":605},{"t":"2008-02-24T08:00","b":1010,"e":260,"h":620},{"t":"2008-02-24T12:00","b":970,"e":240,"h":570},{"t":"2008-02-24T16:00","b":1000,"e":258,"h":605},{"t":"2008-02-24T20:00","b":990,"e":250,"h":590},
{"t":"2008-02-25T00:00","b":1000,"e":255,"h":600},{"t":"2008-02-25T04:00","b":1010,"e":260,"h":585},{"t":"2008-02-25T08:00","b":1020,"e":265,"h":575},{"t":"2008-02-25T12:00","b":990,"e":250,"h":620},{"t":"2008-02-25T16:00","b":1010,"e":262,"h":590},{"t":"2008-02-25T20:00","b":1000,"e":258,"h":605},
{"t":"2008-02-26T00:00","b":1010,"e":262,"h":590},{"t":"2008-02-26T04:00","b":1000,"e":258,"h":610},{"t":"2008-02-26T08:00","b":990,"e":255,"h":625},{"t":"2008-02-26T12:00","b":1030,"e":270,"h":580},{"t":"2008-02-26T16:00","b":1000,"e":260,"h":610},{"t":"2008-02-26T20:00","b":1015,"e":265,"h":595},
{"t":"2008-02-27T00:00","b":1030,"e":270,"h":610},{"t":"2008-02-27T04:00","b":1045,"e":275,"h":620},{"t":"2008-02-27T08:00","b":1060,"e":280,"h":635},{"t":"2008-02-27T12:00","b":1020,"e":262,"h":590},{"t":"2008-02-27T16:00","b":1050,"e":276,"h":620},{"t":"2008-02-27T20:00","b":1035,"e":270,"h":605},
{"t":"2008-02-28T00:00","b":1000,"e":260,"h":580},{"t":"2008-02-28T04:00","b":1040,"e":275,"h":600},{"t":"2008-02-28T08:00","b":1075,"e":285,"h":610},{"t":"2008-02-28T12:00","b":960,"e":250,"h":520},{"t":"2008-02-28T16:00","b":900,"e":240,"h":380},{"t":"2008-02-28T20:00","b":880,"e":215,"h":470},
{"t":"2008-02-29T00:00","b":850,"e":180,"h":500},{"t":"2008-02-29T04:00","b":890,"e":200,"h":460},{"t":"2008-02-29T08:00","b":930,"e":230,"h":420},{"t":"2008-02-29T12:00","b":780,"e":130,"h":350},{"t":"2008-02-29T16:00","b":920,"e":120,"h":430},{"t":"2008-02-29T20:00","b":870,"e":150,"h":390},
{"t":"2008-03-01T00:00","b":760,"e":95,"h":310},{"t":"2008-03-01T04:00","b":800,"e":120,"h":370},{"t":"2008-03-01T08:00","b":830,"e":140,"h":400},{"t":"2008-03-01T12:00","b":720,"e":150,"h":440},{"t":"2008-03-01T16:00","b":900,"e":210,"h":500},{"t":"2008-03-01T20:00","b":880,"e":190,"h":470},
{"t":"2008-03-02T00:00","b":950,"e":230,"h":520},{"t":"2008-03-02T04:00","b":930,"e":220,"h":505},{"t":"2008-03-02T08:00","b":920,"e":215,"h":490},{"t":"2008-03-02T12:00","b":980,"e":250,"h":550},{"t":"2008-03-02T16:00","b":1000,"e":265,"h":570},{"t":"2008-03-02T20:00","b":990,"e":258,"h":560},
{"t":"2008-03-03T00:00","b":990,"e":270,"h":560},{"t":"2008-03-03T04:00","b":1015,"e":262,"h":580},{"t":"2008-03-03T08:00","b":1010,"e":278,"h":575}
]},
"data": {"name": "flow"},
"transform": [{"fold": ["b", "e", "h"], "as": ["s", "v"]}],
"encoding": {
  "color": {
    "field": "s", "type": "nominal",
    "scale": {"domain": ["b", "e", "h"], "range": ["#000000", "#0000ff", "#00ff00"]},
    "legend": {
      "orient": "none", "legendX": 77.5, "legendY": 16, "title": null, "padding": 0,
      "symbolType": "M-7,0L7,0M-6,-1L-6,1M6,-1L6,1", "symbolSize": 144, "symbolStrokeWidth": 1,
      "labelFontSize": 29, "labelOffset": 59.5, "rowPadding": 1.5, "labelLimit": 1000,
      "labelExpr": "datum.value == 'b' ? 'Biogas Input (MBtus)' : datum.value == 'e' ? 'Electrity Output (MBtus)' : 'Electricity Output + Recovered Heat (MBtus)'",
      "labelColor": {"expr": "datum.value == 'b' ? '#000000' : datum.value == 'e' ? '#0000ff' : '#00ff00'"}
    }
  }
},
"layer": [
  {
    "transform": [{"filter": "datum.s == 'b'"}],
    "mark": {"type": "line", "strokeWidth": 1.2},
    "encoding": {
      "x": {"field": "t", "type": "temporal",
        "scale": {"domain": [{"year": 2007, "month": 11, "date": 8, "hours": 15}, {"year": 2008, "month": 3, "date": 4, "hours": 6}]},
        "axis": {"orient": "bottom", "title": null, "ticks": false, "domain": false, "labelOverlap": false, "labelFlush": false, "labelBound": false,
          "values": [{"year": 2007, "month": 11, "date": 8, "hours": 15}, {"year": 2007, "month": 11, "date": 12}, {"year": 2007, "month": 11, "date": 19}, {"year": 2007, "month": 11, "date": 26}, {"year": 2007, "month": 12, "date": 3}, {"year": 2007, "month": 12, "date": 10}, {"year": 2007, "month": 12, "date": 17}, {"year": 2007, "month": 12, "date": 24}, {"year": 2007, "month": 12, "date": 31}, {"year": 2008, "month": 1, "date": 7}, {"year": 2008, "month": 1, "date": 14}, {"year": 2008, "month": 1, "date": 21}, {"year": 2008, "month": 1, "date": 28}, {"year": 2008, "month": 2, "date": 4}, {"year": 2008, "month": 2, "date": 11}, {"year": 2008, "month": 2, "date": 18}, {"year": 2008, "month": 2, "date": 25}, {"year": 2008, "month": 3, "date": 3}],
          "labelExpr": "date(datum.value) == 8 ? '5' : timeFormat(datum.value, '%-d')",
          "labelAlign": "left", "labelBaseline": "top", "labelPadding": 27, "labelOffset": 1, "labelFontSize": 27}},
      "y": {"field": "v", "type": "quantitative",
        "scale": {"domain": [0, 1500], "nice": false},
        "axis": {"orient": "left", "ticks": false, "domain": false, "values": [0, 500, 1000, 1500], "format": "d", "labelFontSize": 27, "labelPadding": 8, "labelFlush": false,
          "labelOffset": {"condition": {"test": "datum.value == 1500", "value": 16}, "value": 0},
          "labelBaseline": {"condition": {"test": "datum.value == 0", "value": "alphabetic"}, "value": "middle"},
          "title": "Energy Flow (MBtu/h)", "titleFontSize": 23, "titleFontWeight": "normal", "titleX": -96, "titleY": 357, "titleAngle": -90, "titleBaseline": "middle", "titleAlign": "center"}}
    }
  },
  {
    "transform": [{"filter": "datum.s == 'e'"}],
    "mark": {"type": "line", "strokeWidth": 1.2},
    "encoding": {
      "x": {"field": "t", "type": "temporal",
        "scale": {"domain": [{"year": 2007, "month": 11, "date": 8, "hours": 15}, {"year": 2008, "month": 3, "date": 4, "hours": 6}]},
        "axis": {"orient": "bottom", "title": null, "ticks": false, "domain": false, "labelOverlap": false, "labelFlush": false, "labelBound": false,
          "values": [{"year": 2007, "month": 11, "date": 8, "hours": 15}, {"year": 2007, "month": 12, "date": 1}, {"year": 2008, "month": 1, "date": 1}, {"year": 2008, "month": 2, "date": 1}],
          "labelExpr": "date(datum.value) == 8 ? ['November', '2007'] : month(datum.value) == 0 ? ['January', '2008'] : timeFormat(datum.value, '%B')",
          "labelAlign": "left", "labelBaseline": "top", "labelPadding": 57, "labelOffset": 1, "labelFontSize": 28, "labelLineHeight": 37}},
      "y": {"field": "v", "type": "quantitative",
        "scale": {"domain": [0, 1500], "nice": false},
        "axis": {"orient": "left", "title": null, "labels": false, "domain": false, "offset": -9, "tickSize": 9,
          "values": [0, 100, 200, 300, 400, 500, 600, 700, 800, 900, 1000, 1100, 1200, 1300, 1400, 1500]}}
    }
  },
  {
    "transform": [{"filter": "datum.s == 'h'"}],
    "mark": {"type": "line", "strokeWidth": 1.2},
    "encoding": {
      "x": {"field": "t", "type": "temporal",
        "scale": {"domain": [{"year": 2007, "month": 11, "date": 8, "hours": 15}, {"year": 2008, "month": 3, "date": 4, "hours": 6}]},
        "axis": {"orient": "bottom", "title": null, "labels": false, "domain": false, "offset": -6, "tickSize": 6,
          "values": [{"year": 2007, "month": 11, "date": 12}, {"year": 2007, "month": 11, "date": 19}, {"year": 2007, "month": 11, "date": 26}, {"year": 2007, "month": 12, "date": 3}, {"year": 2007, "month": 12, "date": 10}, {"year": 2007, "month": 12, "date": 17}, {"year": 2007, "month": 12, "date": 24}, {"year": 2007, "month": 12, "date": 31}, {"year": 2008, "month": 1, "date": 7}, {"year": 2008, "month": 1, "date": 14}, {"year": 2008, "month": 1, "date": 21}, {"year": 2008, "month": 1, "date": 28}, {"year": 2008, "month": 2, "date": 4}, {"year": 2008, "month": 2, "date": 11}, {"year": 2008, "month": 2, "date": 18}, {"year": 2008, "month": 2, "date": 25}, {"year": 2008, "month": 3, "date": 3}]}},
      "y": {"field": "v", "type": "quantitative",
        "scale": {"domain": [0, 1500], "nice": false},
        "axis": {"orient": "left", "title": null, "labels": false, "domain": false, "offset": -18, "tickSize": 18,
          "values": [0, 500, 1000, 1500]}}
    }
  },
  {
    "transform": [{"filter": "datum.s == 'b'"}],
    "mark": {"type": "point", "shape": "M-1,0L1,0M0,-1L0,1", "size": 144, "filled": false, "strokeWidth": 1.35, "opacity": 1},
    "encoding": {
      "x": {"field": "t", "type": "temporal",
        "scale": {"domain": [{"year": 2007, "month": 11, "date": 8, "hours": 15}, {"year": 2008, "month": 3, "date": 4, "hours": 6}]},
        "axis": {"orient": "bottom", "title": null, "labels": false, "domain": false, "offset": -12, "tickSize": 12,
          "values": [{"year": 2007, "month": 12, "date": 1}, {"year": 2008, "month": 1, "date": 1}, {"year": 2008, "month": 2, "date": 1}, {"year": 2008, "month": 3, "date": 1}]}},
      "y": {"field": "v", "type": "quantitative",
        "scale": {"domain": [0, 1500], "nice": false},
        "axis": {"orient": "right", "title": null, "labels": false, "domain": false, "offset": -9, "tickSize": 9,
          "values": [0, 100, 200, 300, 400, 500, 600, 700, 800, 900, 1000, 1100, 1200, 1300, 1400, 1500]}}
    }
  },
  {
    "transform": [{"filter": "datum.s == 'e'"}],
    "mark": {"type": "point", "shape": "M-1,0L1,0M0,-1L0,1", "size": 144, "filled": false, "strokeWidth": 1.35, "opacity": 1},
    "encoding": {
      "x": {"field": "t", "type": "temporal",
        "scale": {"domain": [{"year": 2007, "month": 11, "date": 8, "hours": 15}, {"year": 2008, "month": 3, "date": 4, "hours": 6}]},
        "axis": {"orient": "top", "title": null, "labels": false, "domain": false, "offset": -6, "tickSize": 6,
          "values": [{"year": 2007, "month": 11, "date": 12}, {"year": 2007, "month": 11, "date": 19}, {"year": 2007, "month": 11, "date": 26}, {"year": 2007, "month": 12, "date": 3}, {"year": 2007, "month": 12, "date": 10}, {"year": 2007, "month": 12, "date": 17}, {"year": 2007, "month": 12, "date": 24}, {"year": 2007, "month": 12, "date": 31}, {"year": 2008, "month": 1, "date": 7}, {"year": 2008, "month": 1, "date": 14}, {"year": 2008, "month": 1, "date": 21}, {"year": 2008, "month": 1, "date": 28}, {"year": 2008, "month": 2, "date": 4}, {"year": 2008, "month": 2, "date": 11}, {"year": 2008, "month": 2, "date": 18}, {"year": 2008, "month": 2, "date": 25}, {"year": 2008, "month": 3, "date": 3}]}},
      "y": {"field": "v", "type": "quantitative",
        "scale": {"domain": [0, 1500], "nice": false},
        "axis": {"orient": "right", "title": null, "labels": false, "domain": false, "offset": -18, "tickSize": 18,
          "values": [0, 500, 1000, 1500]}}
    }
  },
  {
    "transform": [{"filter": "datum.s == 'h'"}],
    "mark": {"type": "point", "shape": "M-1,0L1,0M0,-1L0,1", "size": 144, "filled": false, "strokeWidth": 1.35, "opacity": 1},
    "encoding": {
      "x": {"field": "t", "type": "temporal",
        "scale": {"domain": [{"year": 2007, "month": 11, "date": 8, "hours": 15}, {"year": 2008, "month": 3, "date": 4, "hours": 6}]},
        "axis": {"orient": "top", "title": null, "labels": false, "domain": false, "offset": -12, "tickSize": 12,
          "values": [{"year": 2007, "month": 12, "date": 1}, {"year": 2008, "month": 1, "date": 1}, {"year": 2008, "month": 2, "date": 1}, {"year": 2008, "month": 3, "date": 1}]}},
      "y": {"field": "v", "type": "quantitative", "scale": {"domain": [0, 1500], "nice": false}, "axis": null}
    }
  }
],
"resolve": {"axis": {"x": "independent", "y": "independent"}}
}
